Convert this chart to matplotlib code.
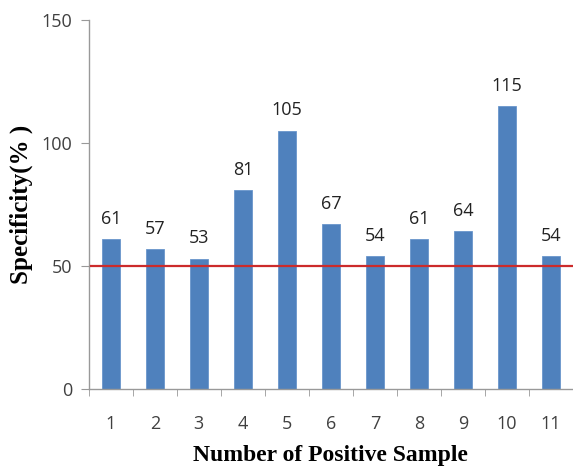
import matplotlib
matplotlib.use('Agg')
import matplotlib.pyplot as plt
import numpy as np

samples = ['1', '2', '3', '4', '5', '6', '7', '8', '9', '10', '11']
specificity = [61, 57, 53, 81, 105, 67, 54, 61, 64, 115, 54]
threshold = 50
yticks = [0, 50, 100, 150]

fig = plt.figure(figsize=(5.73, 4.71), dpi=100)
ax = fig.add_axes([0.155, 0.174, 0.845, 0.784])

x = np.arange(1, len(samples) + 1)
bars = ax.bar(x, specificity, width=0.4, color='#4F81BD', edgecolor='#6A96CC', linewidth=0.6, zorder=2)
for xi, v in zip(x, specificity):
    ax.annotate(str(v), (xi, v), xytext=(0, 8), textcoords='offset points',
                ha='center', va='bottom', fontsize=13, color='#222222',
                family='Open Sans')

ax.axhline(threshold, xmin=0.005, xmax=1, color='#CC2B2B', linewidth=1.6, zorder=3)

ax.set_xlim(0.5, 11.5)
ax.set_ylim(0, 150)
ax.set_yticks(yticks)
ax.set_xticks(x)
ax.set_xticklabels(samples)
ax.set_xticks(np.arange(0.5, 12, 1), minor=True)
ax.tick_params(axis='x', which='major', length=0, pad=19, labelsize=13, labelcolor='#404040')
ax.tick_params(axis='x', which='minor', length=5, color='#999999', direction='out')
ax.tick_params(axis='y', length=6, color='#999999', labelsize=13, labelcolor='#404040', pad=6)
for lab in ax.get_xticklabels() + ax.get_yticklabels():
    lab.set_family('Open Sans')

for s in ['top', 'right']:
    ax.spines[s].set_visible(False)
for s in ['left', 'bottom']:
    ax.spines[s].set_color('#999999')
    ax.spines[s].set_linewidth(1)

ax.set_xlabel('Number of Positive Sample', fontsize=17, fontweight='bold',
              family='Liberation Serif', labelpad=8)
ax.set_ylabel('Specificity(% )', fontsize=18, fontweight='bold',
              family='Liberation Serif', labelpad=6)

fig.savefig('out.png', dpi=100)
